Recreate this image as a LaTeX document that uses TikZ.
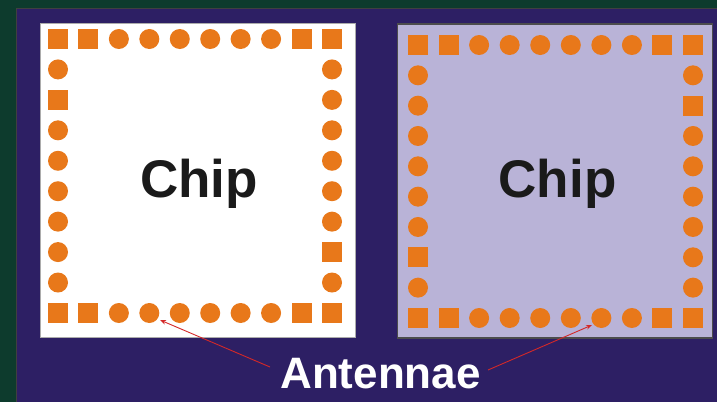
\documentclass[tikz,border=0pt]{standalone}
\usepackage{fontspec}
\setmainfont{Liberation Sans}
\usetikzlibrary{arrows.meta}
\definecolor{bggreen}{HTML}{0D3B2D}
\definecolor{panelpurple}{HTML}{2D1F64}
\definecolor{padorange}{HTML}{E8781A}
\definecolor{lavender}{HTML}{B9B3D7}
\definecolor{chipink}{HTML}{1A1A1A}
\definecolor{arrowred}{HTML}{D42828}
\tikzset{
  pad/.style={fill=padorange, inner sep=0pt, minimum size=20pt},
  padS/.style={pad, rectangle},
  padC/.style={pad, circle},
  chipbox/.style={inner sep=0pt, minimum width=315pt, minimum height=314pt},
  chiptext/.style={font=\bfseries\fontsize{53}{60}\selectfont, text=chipink, inner sep=0pt, anchor=base},
  labeltext/.style={font=\bfseries\fontsize{44}{50}\selectfont, text=white, inner sep=0pt, anchor=base},
  pointer/.style={draw=arrowred, line width=0.9pt, -{Stealth[length=6pt,width=4.5pt]}}
}
\begin{document}
\begin{tikzpicture}[x=1pt,y=-1pt]
\useasboundingbox (0,0) rectangle (717,402);
% backgrounds
\fill[bggreen] (0,0) rectangle (717,402);
\fill[panelpurple] (16.5,8.5) rectangle (717,402);
\draw[black!75, line width=1.5pt] (16.5,402) -- (16.5,8.5) -- (717,8.5);
% chips
\node[chipbox, fill=white, draw=gray!65, line width=1pt] (chipL) at (197.5,180) {};
\node[chipbox, fill=lavender, draw=black!70, line width=1.2pt] (chipR) at (555,181) {};
% left chip pads
\foreach \t [count=\i from 0] in {S,S,C,C,C,C,C,C,S,S} {
  \node[pad\t] (LT\i) at ({58+30.44*\i},39) {};
  \node[pad\t] (LB\i) at ({58+30.44*\i},313) {};
}
\foreach \t [count=\j from 1] in {C,S,C,C,C,C,C,C} {
  \node[pad\t] (LL\j) at (58,{39+30.44*\j}) {};
}
\foreach \t [count=\j from 1] in {C,C,C,C,C,C,S,C} {
  \node[pad\t] (LR\j) at (332,{39+30.44*\j}) {};
}
% right chip pads
\foreach \t [count=\i from 0] in {S,S,C,C,C,C,C,C,S,S} {
  \node[pad\t] (RT\i) at ({418+30.56*\i},45) {};
  \node[pad\t] (RB\i) at ({418+30.56*\i},318) {};
}
\foreach \t [count=\j from 1] in {C,C,C,C,C,C,S,C} {
  \node[pad\t] (RL\j) at (418,{45+30.33*\j}) {};
}
\foreach \t [count=\j from 1] in {C,S,C,C,C,C,C,C} {
  \node[pad\t] (RR\j) at (693,{45+30.33*\j}) {};
}
% texts
\node[chiptext] (chipLtext) at (199,197) {Chip};
\node[chiptext] (chipRtext) at (557.5,197.5) {Chip};
\node[labeltext] (antennae) at (380.5,388) {Antennae};
% pointers
\coordinate (pL) at (160,320);
\coordinate (pR) at (592,325);
\coordinate (sL) at (270,367);
\coordinate (sR) at (488,370);
\draw[pointer] (sL) -- (pL);
\draw[pointer] (sR) -- (pR);
\end{tikzpicture}
\end{document}
